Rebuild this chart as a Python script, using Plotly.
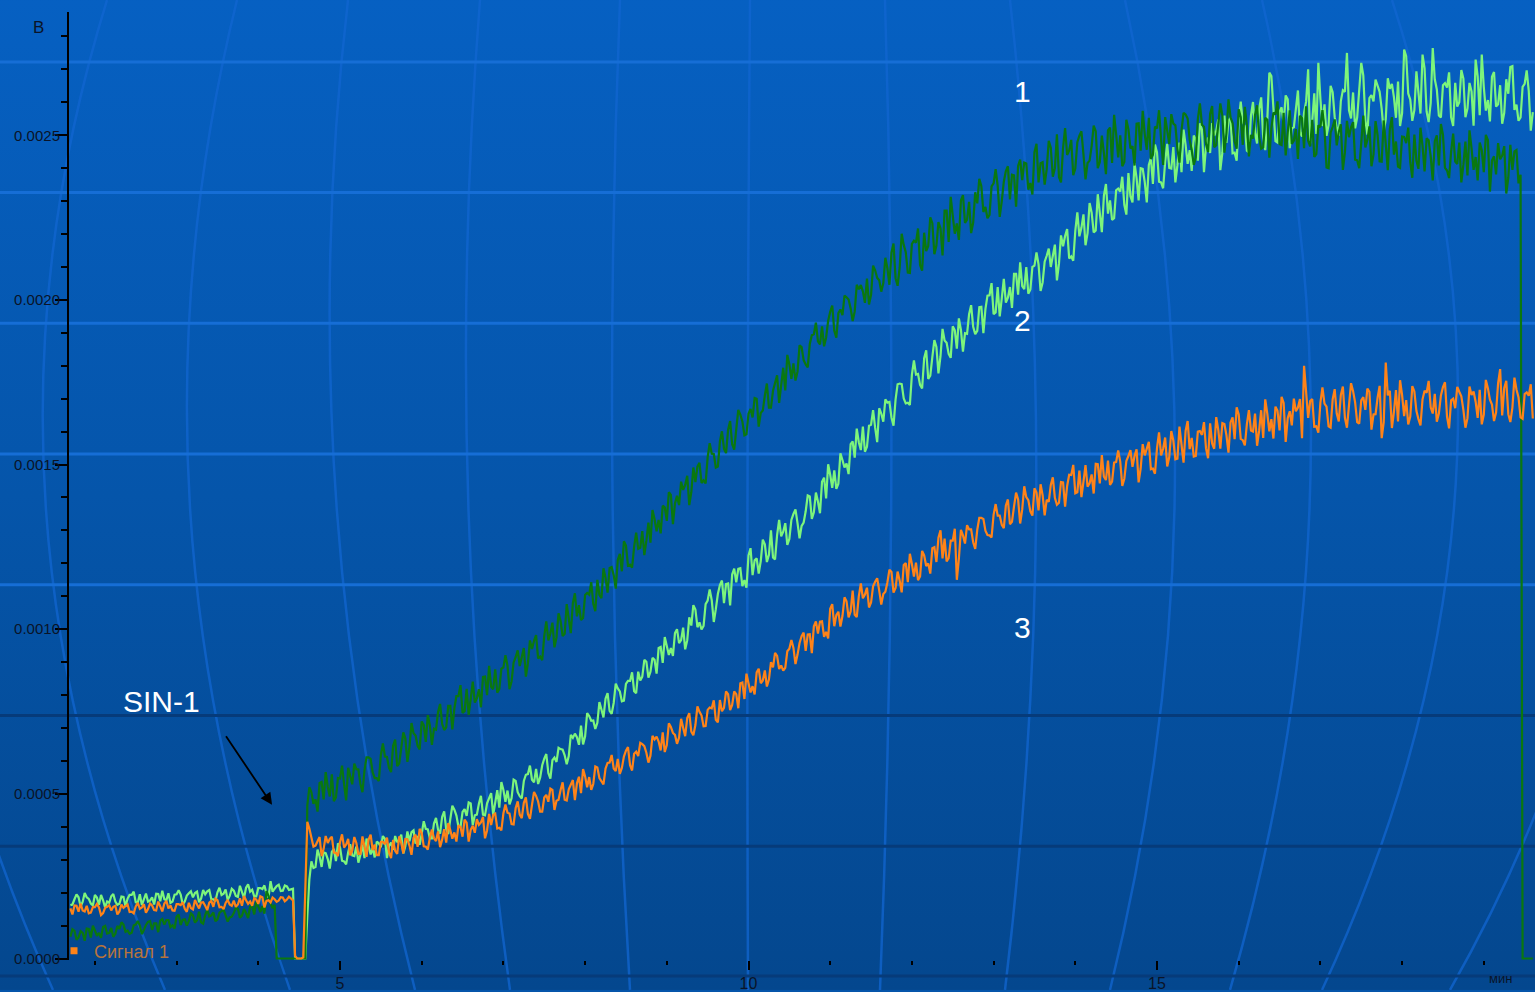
import base64
import plotly.graph_objects as go

# ---------------- data (microvolts) ----------------
# main readings every 0.05 min from 1.70 min; *_half readings sit halfway between them
t_start = 1.70
t_step = 0.05

# curve 1 (dark green)
signal_1_uV = [
    66, 84, 64, 78, 91, 64, 85, 78, 96, 76,
    93, 75, 90, 103, 85, 78, 103, 100, 87, 111,
    87, 107, 115, 103, 117, 101, 127, 102, 119, 114,
    131, 116, 110, 132, 128, 140, 119, 144, 131, 125,
    138, 151, 130, 138, 157, 134, 158, 159, 205, 167,
    163, 0, 0, 0, 0, 0, 0, 0, 465, 505,
    483, 533, 483, 521, 559, 489, 547, 529, 579, 529,
    575, 530, 572, 611, 565, 548, 618, 613, 579, 646,
    584, 642, 668, 642, 684, 646, 720, 658, 708, 698,
    748, 713, 702, 767, 760, 797, 746, 819, 788, 777,
    818, 855, 800, 825, 878, 819, 884, 889, 842, 915,
    888, 943, 897, 940, 982, 917, 979, 966, 1020, 975,
    1025, 986, 1034, 1079, 1039, 1028, 1104, 1105, 1077, 1150,
    1094, 1156, 1186, 1164, 1210, 1176, 1254, 1196, 1250, 1244,
    1298, 1269, 1263, 1334, 1332, 1375, 1329, 1408, 1382, 1377,
    1423, 1466, 1416, 1447, 1505, 1452, 1522, 1533, 1491, 1570,
    1548, 1605, 1562, 1607, 1652, 1589, 1654, 1643, 1700, 1657,
    1710, 1673, 1724, 1771, 1734, 1725, 1804, 1807, 1782, 1857,
    1804, 1866, 1896, 1874, 1920, 1886, 1964, 1906, 1960, 1954,
    2008, 1975, 1965, 2032, 2026, 2065, 2015, 2090, 2060, 2051,
    2096, 2144, 2066, 2097, 2167, 2083, 2170, 2174, 2106, 2204,
    2164, 2233, 2165, 2218, 2271, 2176, 2256, 2232, 2302, 2234,
    2298, 2235, 2293, 2345, 2282, 2258, 2354, 2346, 2300, 2391,
    2305, 2378, 2407, 2364, 2414, 2355, 2449, 2357, 2418, 2397,
    2462, 2400, 2373, 2461, 2440, 2486, 2399, 2499, 2442, 2416,
    2467, 2512, 2419, 2446, 2515, 2416, 2503, 2500, 2419, 2518,
    2467, 2535, 2453, 2503, 2553, 2441, 2521, 2487, 2555, 2473,
    2535, 2458, 2514, 2563, 2486, 2410, 2549, 2532, 2473, 2565,
    2464, 2536, 2560, 2506, 2554, 2482, 2579, 2471, 2531, 2501,
    2562, 2495, 2463, 2547, 2522, 2563, 2473, 2568, 2508, 2474,
    2519, 2559, 2461, 2483, 2547, 2443, 2525, 2517, 2400, 2525,
    2469, 2533, 2448, 2494, 2540, 2424, 2477, 2463, 2527, 2442,
    2500, 2420, 2473, 2519, 2441, 2405, 2496, 2476, 2418, 2502,
    2398, 2468, 2491, 2436, 2482, 2408, 2502, 2393, 2450, 2420,
    2478, 2410, 2378, 2460, 2434, 2478, 2388, 2486, 2423, 2381,
    2427, 2467, 2371, 2395, 2455, 2380, 0, 0, 0,
]
signal_1_half_uV = [
    89, 57, 83, 54, 90, 100, 69, 63, 99, 78,
    66, 99, 110, 81, 75, 101, 114, 74, 102, 114,
    107, 80, 120, 117, 95, 91, 134, 118, 100, 137,
    109, 142, 106, 148, 131, 113, 139, 148, 112, 127,
    154, 124, 150, 123, 160, 171, 141, 136, 190, 153,
    0, 0, 0, 0, 0, 0, 0, 0, 520, 470,
    446, 536, 566, 492, 478, 548, 586, 480, 558, 592,
    574, 505, 611, 606, 548, 539, 653, 612, 566, 665,
    593, 687, 597, 715, 677, 635, 709, 739, 649, 695,
    773, 694, 767, 696, 797, 830, 751, 740, 841, 790,
    763, 856, 889, 818, 807, 880, 921, 818, 899, 936,
    921, 856, 966, 965, 911, 906, 1024, 987, 945, 1048,
    979, 1076, 988, 1109, 1073, 1034, 1110, 1143, 1055, 1104,
    1185, 1111, 1189, 1123, 1229, 1267, 1193, 1187, 1293, 1247,
    1225, 1324, 1362, 1297, 1291, 1370, 1416, 1319, 1405, 1448,
    1438, 1377, 1491, 1494, 1444, 1443, 1565, 1532, 1494, 1601,
    1535, 1632, 1545, 1666, 1631, 1592, 1669, 1702, 1615, 1664,
    1746, 1673, 1752, 1687, 1794, 1833, 1760, 1755, 1862, 1817,
    1795, 1893, 1931, 1865, 1859, 1937, 1983, 1885, 1971, 2013,
    2001, 1936, 2046, 2045, 1991, 1986, 2104, 2067, 2025, 2128,
    2046, 2171, 2043, 2201, 2145, 2082, 2180, 2217, 2089, 2148,
    2251, 2139, 2236, 2135, 2271, 2313, 2201, 2182, 2318, 2244,
    2203, 2327, 2368, 2267, 2248, 2345, 2397, 2252, 2359, 2406,
    2380, 2283, 2426, 2417, 2335, 2320, 2474, 2415, 2350, 2483,
    2374, 2503, 2357, 2522, 2454, 2379, 2479, 2512, 2366, 2423,
    2529, 2400, 2499, 2382, 2523, 2562, 2433, 2406, 2547, 2460,
    2408, 2536, 2574, 2456, 2428, 2526, 2576, 2410, 2520, 2564,
    2530, 2417, 2568, 2551, 2456, 2433, 2597, 2526, 2449, 2589,
    2470, 2597, 2447, 2609, 2537, 2459, 2555, 2586, 2436, 2490,
    2591, 2459, 2553, 2432, 2569, 2603, 2470, 2439, 2576, 2484,
    2428, 2552, 2588, 2466, 2434, 2530, 2576, 2402, 2508, 2548,
    2510, 2395, 2544, 2524, 2426, 2400, 2560, 2486, 2406, 2543,
    2421, 2545, 2394, 2555, 2481, 2401, 2495, 2523, 2371, 2423,
    2523, 2390, 2485, 2363, 2500, 2534, 2401, 2370, 2505, 2413,
    2357, 2481, 2515, 2395, 2363, 2455, 2501, 2329, 2436, 2476,
    2438, 2323, 2471, 2451, 2354, 0, 0, 0,
]

# curve 2 (light green)
signal_2_uV = [
    162, 180, 186, 172, 186, 167, 193, 163, 177, 173,
    189, 173, 166, 187, 182, 193, 171, 195, 180, 173,
    186, 197, 174, 180, 198, 173, 195, 194, 173, 198,
    186, 203, 182, 195, 208, 180, 201, 193, 210, 190,
    206, 187, 202, 215, 203, 189, 214, 211, 197, 235,
    212, 224, 206, 219, 210, 0, 0, 0, 130, 295,
    278, 310, 322, 302, 324, 296, 338, 295, 323, 313,
    340, 315, 305, 342, 335, 355, 338, 363, 341, 330,
    353, 376, 341, 356, 389, 372, 379, 394, 365, 410,
    391, 430, 393, 423, 452, 400, 445, 433, 471, 435,
    470, 437, 471, 502, 469, 458, 512, 510, 487, 539,
    493, 539, 560, 543, 576, 550, 607, 563, 602, 597,
    636, 617, 615, 670, 672, 707, 675, 736, 723, 716,
    756, 789, 752, 776, 820, 781, 834, 843, 812, 871,
    856, 901, 871, 907, 943, 898, 949, 943, 988, 958,
    1005, 966, 1011, 1060, 1021, 1010, 1087, 1088, 1061, 1134,
    1079, 1139, 1166, 1142, 1185, 1149, 1224, 1164, 1215, 1207,
    1258, 1226, 1218, 1286, 1282, 1322, 1274, 1350, 1322, 1314,
    1358, 1403, 1355, 1388, 1448, 1397, 1469, 1482, 1442, 1514,
    1503, 1562, 1521, 1568, 1615, 1554, 1621, 1612, 1671, 1630,
    1688, 1643, 1697, 1746, 1701, 1688, 1773, 1773, 1742, 1823,
    1760, 1826, 1857, 1829, 1877, 1836, 1920, 1852, 1909, 1899,
    1957, 1918, 1906, 1979, 1972, 2014, 1957, 2039, 2005, 1992,
    2039, 2079, 2016, 2042, 2100, 2032, 2104, 2108, 2053, 2134,
    2100, 2168, 2110, 2163, 2215, 2132, 2210, 2193, 2260, 2203,
    2265, 2211, 2266, 2317, 2262, 2243, 2333, 2329, 2289, 2385,
    2296, 2370, 2400, 2358, 2410, 2352, 2448, 2357, 2420, 2401,
    2464, 2409, 2388, 2471, 2455, 2499, 2423, 2517, 2467, 2446,
    2498, 2548, 2447, 2477, 2553, 2447, 2542, 2539, 2453, 2560,
    2506, 2580, 2492, 2548, 2680, 2482, 2570, 2534, 2609, 2521,
    2590, 2508, 2569, 2700, 2542, 2504, 2611, 2594, 2531, 2631,
    2524, 2604, 2632, 2576, 2630, 2554, 2720, 2546, 2613, 2603,
    2651, 2580, 2549, 2641, 2616, 2663, 2567, 2740, 2608, 2576,
    2630, 2745, 2572, 2598, 2670, 2560, 2652, 2645, 2554, 2659,
    2600, 2672, 2581, 2633, 2730, 2561, 2646, 2607, 2678, 2587,
    2652, 2568, 2626, 2710, 2593, 2554, 2656, 2635, 2570,
]
signal_2_half_uV = [
    164, 195, 158, 199, 181, 161, 185, 193, 155, 169,
    196, 163, 188, 158, 193, 203, 170, 162, 197, 176,
    164, 196, 206, 177, 169, 194, 207, 164, 191, 204,
    199, 171, 208, 204, 180, 174, 215, 197, 178, 212,
    190, 221, 184, 225, 209, 189, 214, 222, 185, 203,
    220, 205, 222, 208, 212, 0, 0, 0, 240, 275,
    331, 278, 320, 273, 333, 350, 297, 286, 347, 311,
    291, 346, 364, 316, 307, 350, 372, 305, 352, 372,
    361, 319, 386, 384, 349, 345, 417, 392, 365, 427,
    379, 447, 378, 464, 434, 400, 454, 474, 405, 437,
    494, 435, 489, 436, 511, 536, 476, 468, 543, 505,
    486, 558, 586, 535, 530, 587, 621, 546, 610, 640,
    634, 590, 679, 683, 649, 650, 745, 722, 697, 779,
    732, 806, 743, 835, 811, 783, 843, 869, 806, 844,
    907, 853, 913, 865, 946, 976, 922, 919, 1000, 967,
    939, 1036, 1073, 1006, 999, 1076, 1121, 1022, 1107, 1148,
    1137, 1072, 1184, 1183, 1131, 1126, 1246, 1209, 1169, 1272,
    1204, 1300, 1212, 1332, 1296, 1256, 1332, 1364, 1276, 1324,
    1406, 1335, 1415, 1352, 1460, 1501, 1429, 1426, 1534, 1491,
    1471, 1570, 1609, 1544, 1539, 1618, 1665, 1568, 1655, 1698,
    1690, 1618, 1744, 1744, 1686, 1681, 1816, 1775, 1731, 1847,
    1770, 1878, 1777, 1912, 1870, 1824, 1908, 1944, 1843, 1897,
    1984, 1896, 1978, 1899, 2013, 2051, 1962, 1950, 2064, 2007,
    1976, 2079, 2114, 2033, 2019, 2100, 2144, 2027, 2116, 2156,
    2141, 2059, 2196, 2194, 2126, 2119, 2266, 2219, 2166, 2294,
    2205, 2321, 2206, 2352, 2302, 2248, 2338, 2374, 2259, 2315,
    2415, 2302, 2398, 2296, 2431, 2472, 2359, 2339, 2474, 2399,
    2357, 2478, 2517, 2413, 2392, 2486, 2536, 2388, 2493, 2537,
    2513, 2394, 2560, 2545, 2445, 2423, 2602, 2528, 2448, 2601,
    2475, 2615, 2455, 2690, 2560, 2478, 2585, 2621, 2461, 2524,
    2636, 2496, 2602, 2475, 2627, 2720, 2528, 2498, 2650, 2555,
    2499, 2637, 2750, 2551, 2521, 2628, 2682, 2502, 2622, 2669,
    2632, 2510, 2673, 2656, 2553, 2528, 2760, 2627, 2544, 2694,
    2566, 2703, 2540, 2765, 2639, 2554, 2658, 2691, 2528, 2587,
    2698, 2555, 2659, 2529, 2679, 2745, 2575, 2542, 2692, 2594,
    2535, 2670, 2707, 2577, 2544, 2647, 2697, 2514,
]

# curve 3 (orange)
signal_3_uV = [
    152, 161, 142, 146, 160, 139, 156, 155, 138, 157,
    146, 160, 143, 154, 164, 142, 158, 151, 165, 150,
    161, 146, 157, 167, 152, 146, 165, 162, 151, 169,
    149, 164, 170, 160, 170, 157, 177, 157, 169, 164,
    176, 164, 160, 177, 173, 183, 166, 186, 175, 170,
    180, 176, 185, 179, 182, 8, 0, 3, 415, 362,
    343, 369, 333, 351, 370, 321, 353, 337, 363, 328,
    351, 318, 341, 361, 329, 314, 354, 347, 322, 360,
    318, 350, 363, 343, 366, 339, 382, 340, 367, 365,
    386, 361, 352, 390, 383, 404, 370, 413, 391, 382,
    406, 430, 389, 405, 440, 397, 441, 443, 408, 457,
    437, 473, 439, 467, 494, 446, 489, 476, 512, 479,
    512, 482, 514, 542, 532, 502, 553, 551, 530, 580,
    537, 577, 595, 577, 606, 579, 631, 587, 622, 615,
    651, 625, 616, 665, 659, 687, 648, 703, 679, 671,
    701, 730, 689, 709, 749, 705, 755, 760, 725, 785,
    761, 803, 770, 803, 836, 788, 836, 827, 869, 836,
    875, 847, 884, 919, 890, 883, 941, 943, 923, 979,
    934, 985, 1009, 987, 1024, 992, 1062, 1009, 1053, 1040,
    1085, 1054, 1044, 1100, 1094, 1126, 1081, 1144, 1117, 1107,
    1142, 1174, 1125, 1148, 1195, 1143, 1198, 1202, 1160, 1224,
    1200, 1246, 1204, 1300, 1275, 1216, 1269, 1150, 1302, 1260,
    1303, 1264, 1302, 1338, 1299, 1285, 1348, 1345, 1317, 1376,
    1319, 1373, 1394, 1363, 1401, 1358, 1428, 1361, 1407, 1393,
    1438, 1399, 1384, 1446, 1435, 1468, 1413, 1482, 1448, 1433,
    1470, 1502, 1443, 1463, 1512, 1448, 1508, 1509, 1457, 1526,
    1493, 1546, 1488, 1528, 1569, 1488, 1550, 1528, 1582, 1523,
    1573, 1518, 1562, 1602, 1547, 1524, 1600, 1590, 1549, 1625,
    1548, 1605, 1626, 1589, 1628, 1577, 1652, 1574, 1623, 1603,
    1655, 1603, 1581, 1655, 1638, 1676, 1604, 1687, 1641, 1619,
    1662, 1699, 1800, 1642, 1699, 1616, 1688, 1685, 1616, 1698,
    1655, 1711, 1642, 1682, 1723, 1629, 1695, 1666, 1721, 1652,
    1703, 1580, 1810, 1724, 1660, 1631, 1711, 1696, 1646, 1722,
    1638, 1698, 1718, 1674, 1715, 1655, 1735, 1645, 1695, 1671,
    1721, 1666, 1641, 1711, 1691, 1727, 1652, 1732, 1682, 1658,
    1790, 1733, 1653, 1673, 1728, 1643, 1714, 1709, 1640,
]
signal_3_half_uV = [
    134, 160, 167, 143, 137, 156, 166, 132, 154, 162,
    157, 134, 164, 160, 141, 137, 169, 155, 139, 167,
    147, 173, 143, 175, 161, 145, 165, 171, 142, 153,
    178, 152, 171, 147, 175, 182, 156, 150, 178, 160,
    157, 183, 190, 166, 160, 179, 189, 155, 177, 185,
    172, 186, 174, 188, 176, 0, 0, 180, 395, 340,
    359, 311, 372, 363, 322, 311, 377, 346, 313, 369,
    318, 371, 309, 376, 346, 314, 354, 367, 305, 327,
    371, 319, 362, 315, 376, 394, 341, 331, 392, 357,
    338, 393, 411, 364, 355, 399, 422, 355, 403, 423,
    413, 365, 439, 436, 395, 389, 468, 440, 407, 477,
    426, 489, 424, 506, 477, 446, 497, 516, 451, 482,
    535, 480, 531, 481, 552, 575, 520, 512, 583, 548,
    529, 594, 618, 569, 561, 613, 642, 571, 628, 655,
    645, 595, 676, 674, 632, 627, 714, 685, 652, 728,
    675, 745, 678, 766, 738, 706, 762, 784, 717, 751,
    811, 754, 811, 760, 838, 865, 808, 802, 880, 844,
    826, 900, 928, 879, 874, 933, 967, 894, 958, 990,
    984, 927, 1024, 1023, 977, 972, 1076, 1043, 1008, 1097,
    1036, 1117, 1037, 1139, 1105, 1066, 1130, 1155, 1075, 1114,
    1181, 1111, 1175, 1112, 1201, 1229, 1160, 1149, 1238, 1192,
    1169, 1249, 1278, 1215, 1206, 1269, 1305, 1214, 1285, 1316,
    1303, 1244, 1338, 1335, 1286, 1279, 1380, 1345, 1307, 1394,
    1326, 1415, 1321, 1434, 1392, 1345, 1415, 1440, 1346, 1387,
    1461, 1378, 1447, 1372, 1469, 1499, 1416, 1401, 1498, 1443,
    1412, 1501, 1529, 1453, 1438, 1506, 1543, 1435, 1511, 1544,
    1526, 1446, 1562, 1553, 1486, 1472, 1598, 1548, 1494, 1602,
    1516, 1615, 1506, 1632, 1581, 1526, 1602, 1629, 1519, 1564,
    1644, 1548, 1623, 1536, 1643, 1674, 1578, 1558, 1665, 1600,
    1557, 1665, 1698, 1601, 1579, 1663, 1706, 1569, 1662, 1700,
    1673, 1580, 1707, 1693, 1615, 1597, 1734, 1676, 1612, 1729,
    1631, 1737, 1612, 1747, 1689, 1624, 1705, 1731, 1606, 1653,
    1739, 1629, 1710, 1611, 1726, 1756, 1647, 1622, 1738, 1663,
    1619, 1724, 1754, 1655, 1630, 1710, 1750, 1610, 1700, 1736,
    1707, 1612, 1737, 1722, 1642, 1622, 1757, 1697, 1632, 1747,
    1649, 1754, 1629, 1764, 1704, 1639, 1719, 1744,
]

curve_labels = ["1", "2", "3"]
legend_name = "Сигнал 1"
event_label = "SIN-1"
y_unit = "В"
x_unit = "мин"


# ---------------- helpers ----------------
def merge(main, half):
    """Put main readings and half-step readings in time order."""
    xs, ys = [], []
    for i, v in enumerate(main):
        xs.append(round(t_start + t_step * i, 4))
        ys.append(v * 1e-6)
        if i < len(half):
            xs.append(round(t_start + t_step * (i + 0.5), 4))
            ys.append(half[i] * 1e-6)
    return xs, ys


W, H = 1535, 992
ML, MR, MT, MB = 69, 0, 12, 30
PW, PH = W - ML - MR, H - MT - MB

# background picture (gradient + globe grid), decoration only
lat_light = [62, 193, 324, 455, 586]
lat_dark = [717, 848, 978]
meridians = [(-40, -170, 53), (107, -46, 165), (237, 115, 290), (348, 290, 415),
             (480, 441, 510), (620, 600, 630), (750, 746, 748), (885, 900, 880),
             (1010, 1065, 1005), (1125, 1232, 1110), (1262, 1374, 1230),
             (1392, 1553, 1322), (1560, 1730, 1450)]
svg = [f'<svg xmlns="http://www.w3.org/2000/svg" width="{W}" height="{H}" viewBox="0 0 {W} {H}">',
       '<defs><linearGradient id="g" x1="0" y1="0" x2="0" y2="1">'
       '<stop offset="0" stop-color="#0660c2"/><stop offset="0.5" stop-color="#0555aa"/>'
       '<stop offset="1" stop-color="#04478e"/></linearGradient></defs>',
       f'<rect x="0" y="0" width="{W}" height="{H}" fill="url(#g)"/>']
for x0, cx, x2 in meridians:
    svg.append(f'<path d="M {x0} 0 Q {cx} {H/2} {x2} {H}" fill="none" stroke="#1166d0" '
               f'stroke-opacity="0.75" stroke-width="2.5"/>')
for yy in lat_light:
    svg.append(f'<line x1="0" y1="{yy}" x2="{W}" y2="{yy}" stroke="#166ed6" stroke-width="3"/>')
for yy in lat_dark:
    svg.append(f'<line x1="0" y1="{yy}" x2="{W}" y2="{yy}" stroke="#063b7a" stroke-width="3"/>')
svg.append('</svg>')
bg_uri = "data:image/svg+xml;base64," + base64.b64encode("".join(svg).encode()).decode()

# ---------------- figure ----------------
fig = go.Figure()
series = [
    (signal_2_uV, signal_2_half_uV, "#7df57b", curve_labels[1]),
    (signal_1_uV, signal_1_half_uV, "#0a780f", curve_labels[0]),
    (signal_3_uV, signal_3_half_uV, "#ff8318", curve_labels[2]),
]
for main, half, col, nm in series:
    xs, ys = merge(main, half)
    fig.add_trace(go.Scatter(x=xs, y=ys, mode="lines",
                             line=dict(color=col, width=2.2), name=nm, showlegend=False,
                             hoverinfo="skip"))
fig.add_trace(go.Scatter(x=[None], y=[None], mode="markers",
                         marker=dict(symbol="square", size=7, color="#ff8318"),
                         name=legend_name, showlegend=True))

x_lo = (ML + 68.5) / 81.7
x_hi = x_lo + PW / 81.7
y_lo = -0.0000045
y_hi = y_lo + PH / 165 * 0.0005

tick_font = dict(family="Liberation Sans, Arial", size=16, color="#0a1428")
fig.update_xaxes(range=[x_lo, x_hi], tickmode="linear", tick0=0, dtick=5,
                 ticks="outside", ticklen=9, tickwidth=2, tickcolor="#000000",
                 minor=dict(ticks="outside", ticklen=4, tickwidth=2, tickcolor="#000000",
                            dtick=1, tick0=0, showgrid=False),
                 showline=False, showgrid=False, zeroline=False, tickfont=tick_font)
fig.update_yaxes(range=[y_lo, y_hi], tickmode="linear", tick0=0, dtick=0.0005,
                 tickformat=".4f", ticks="outside", ticklen=12, tickwidth=2, tickcolor="#000000",
                 minor=dict(ticks="outside", ticklen=6, tickwidth=2, tickcolor="#000000",
                            dtick=0.0001, tick0=0, showgrid=False),
                 showline=True, linecolor="#000000", linewidth=2,
                 showgrid=False, zeroline=False,
                 tickfont=dict(family="Liberation Sans, Arial", size=15, color="#0a1428"),
                 ticklabelstandoff=-8)

white = dict(family="Liberation Sans, Arial", size=30, color="#ffffff")
fig.add_annotation(x=13.35, y=0.002633, text=curve_labels[0], showarrow=False, font=white)
fig.add_annotation(x=13.35, y=0.001936, text=curve_labels[1], showarrow=False, font=white)
fig.add_annotation(x=13.35, y=0.001006, text=curve_labels[2], showarrow=False, font=white)
fig.add_annotation(x=2.82, y=0.000779, text=event_label, showarrow=False, font=white)
fig.add_annotation(x=4.168, y=0.000467, ax=-47, ay=-70, text="", showarrow=True,
                   arrowhead=2, arrowsize=1.3, arrowwidth=1.8, arrowcolor="#000000")
fig.add_annotation(xref="paper", yref="paper", x=(38 - ML) / PW, y=(H - MB - 28) / PH,
                   xanchor="center", yanchor="middle", text=y_unit, showarrow=False,
                   font=dict(family="Liberation Sans, Arial", size=17, color="#0a1428"))
fig.add_annotation(xref="paper", yref="paper", x=(1500 - ML) / PW, y=(H - MB - 981) / PH,
                   xanchor="center", yanchor="middle", text=x_unit, showarrow=False,
                   font=dict(family="Liberation Sans, Arial", size=13, color="#0a1428"))

fig.add_layout_image(dict(source=bg_uri, xref="paper", yref="paper",
                          x=-ML / PW, y=1 + MT / PH, sizex=W / PW, sizey=H / PH,
                          xanchor="left", yanchor="top", sizing="stretch", layer="below"))

fig.update_layout(
    width=W, height=H, margin=dict(l=ML, r=MR, t=MT, b=MB, pad=0),
    paper_bgcolor="#0555aa", plot_bgcolor="rgba(0,0,0,0)",
    showlegend=True,
    legend=dict(x=(54 - ML) / PW, y=(H - MB - 953) / PH, xanchor="left", yanchor="middle",
                bgcolor="rgba(0,0,0,0)", itemwidth=30,
                font=dict(family="Liberation Sans, Arial", size=18, color="#b8743c")),
)

fig.write_html("out.html", config={"displayModeBar": False},
               post_script="document.body.style.margin='0';document.body.style.overflow='hidden';")
